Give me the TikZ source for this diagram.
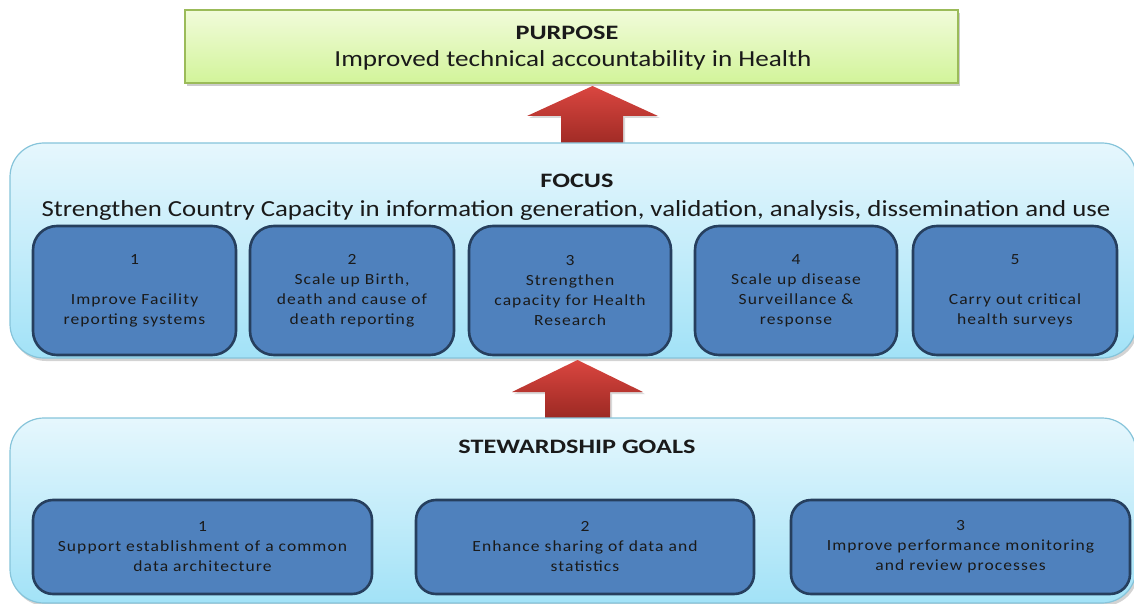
\documentclass[tikz,border=0pt]{standalone}
\usepackage{fontspec}
\setmainfont{Carlito}
\usetikzlibrary{shadows,calc}
\definecolor{paneltop}{HTML}{E6F7FD}
\definecolor{panelbot}{HTML}{A2E2F7}
\definecolor{panelline}{HTML}{86C4DA}
\definecolor{boxblue}{HTML}{4F81BD}
\definecolor{boxline}{HTML}{263F5E}
\definecolor{greentop}{HTML}{F1FBDA}
\definecolor{greenbot}{HTML}{D2F49A}
\definecolor{greenline}{HTML}{9BBB59}
\definecolor{arrtop}{HTML}{DA4640}
\definecolor{arrbot}{HTML}{9A2822}
\definecolor{txt}{HTML}{1A1A1A}
\tikzset{
  panel/.style={rounded corners=34pt, top color=paneltop, bottom color=panelbot,
    draw=panelline, line width=1.2pt,
    drop shadow={shadow xshift=2pt, shadow yshift=-3pt, opacity=0.35}},
  bluebox/.style={rounded corners=24pt, fill=boxblue, draw=boxline, line width=2.6pt,
    align=center, text=txt, inner sep=0pt,
    font=\fontsize{15.5}{20}\selectfont\addfontfeatures{LetterSpace=7,FakeStretch=1.13}},
  purposebox/.style={top color=greentop, bottom color=greenbot, draw=greenline,
    line width=1.2pt, drop shadow={shadow xshift=2pt, shadow yshift=-3pt, opacity=0.4}},
  bigarrow/.style={top color=arrtop, bottom color=arrbot, draw=none,
    drop shadow={shadow xshift=2pt, shadow yshift=-2pt, opacity=0.3}},
  heading/.style={font=\fontsize{20.5}{22}\selectfont\bfseries\addfontfeatures{FakeStretch=1.28}, text=txt},
  subhead/.style={font=\fontsize{23}{25}\selectfont\addfontfeatures{FakeStretch=1.18}, text=txt}
}
\begin{document}
\begin{tikzpicture}[x=1pt,y=-1pt]
\useasboundingbox (0,0) rectangle (1134,604);
% purpose
\node[purposebox, minimum width=773pt, minimum height=73pt, inner sep=0pt] (purpose) at (571.5,46.5) {};
\node[heading] (ptitle) at (567,33) {PURPOSE};
\node[subhead] (ptext) at (573,60) {Improved technical accountability in Health};
% arrow 1
\path[bigarrow] (561,150) -- (561,116) -- (527,116) -- (592.5,86) -- (658,116) -- (623,116) -- (623,150) -- cycle;
% focus panel
\path[panel] (10,143) rectangle (1136,358);
\node[heading] (ftitle) at (577,181) {FOCUS};
\node[subhead, font=\fontsize{23}{25}\selectfont\addfontfeatures{FakeStretch=1.165}] (ftext) at (576,210) {Strengthen Country Capacity in information generation, validation, analysis, dissemination and use};
\node[bluebox, minimum width=203pt, minimum height=129pt] (f1) at (134.5,290.5) {1\\[20pt]Improve Facility\\reporting systems};
\node[bluebox, minimum width=204pt, minimum height=129pt] (f2) at (352,290.5) {2\\Scale up Birth,\\death and cause of\\death reporting};
\node[bluebox, minimum width=202pt, minimum height=129pt] (f3) at (570,290.5) {3\\Strengthen\\capacity for Health\\Research};
\node[bluebox, minimum width=202pt, minimum height=129pt] (f4) at (796,290.5) {4\\Scale up disease\\Surveillance \&\\response};
\node[bluebox, minimum width=204pt, minimum height=129pt] (f5) at (1015,290.5) {5\\[20pt]Carry out critical\\health surveys};
% arrow 2
\path[bigarrow] (545,420) -- (545,392) -- (512,392) -- (577.5,360) -- (643,392) -- (610,392) -- (610,420) -- cycle;
% stewardship panel
\path[panel] (10,418) rectangle (1136,603);
\node[heading] (stitle) at (577,447) {STEWARDSHIP GOALS};
\node[bluebox, minimum width=339pt, minimum height=94pt, rounded corners=20pt] (s1) at (202.5,547) {1\\Support establishment of a common\\data architecture};
\node[bluebox, minimum width=338pt, minimum height=94pt, rounded corners=20pt] (s2) at (585,547) {2\\Enhance sharing of data and\\statistics};
\node[bluebox, minimum width=339pt, minimum height=94pt, rounded corners=20pt] (s3) at (960.5,547) {3\\Improve performance monitoring\\and review processes};
\end{tikzpicture}
\end{document}
